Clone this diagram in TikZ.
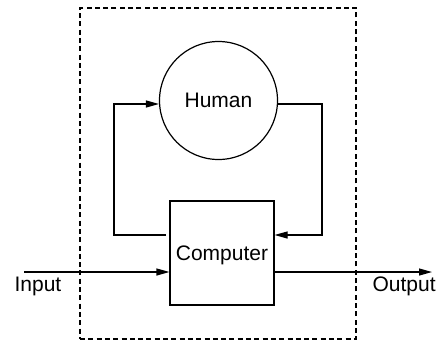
\documentclass[tikz,border=0pt]{standalone}
\usepackage{fontspec}
\setmainfont{Liberation Sans}
\usetikzlibrary{arrows.meta}
\begin{document}
\begin{tikzpicture}[x=1pt,y=-1pt,
  line width=1.2pt,
  arr/.style={-{Triangle[length=13pt,width=7pt]}},
  lbl/.style={inner sep=0pt,font=\fontsize{21}{25}\selectfont},
  shapebox/.style={draw,inner sep=0pt,font=\fontsize{21}{25}\selectfont}]
\useasboundingbox (0,0) rectangle (444,340);
\node[draw,dash pattern=on 5pt off 3.3pt,minimum width=276pt,minimum height=331pt,inner sep=0pt] (frame) at (218,173.5) {};
\node[shapebox,circle,minimum size=118pt] (human) at (218.5,100.5) {Human};
\node[shapebox,rectangle,minimum width=104pt,minimum height=104pt,text depth=0pt] (comp) at (222,253) {Computer};
\node[lbl,anchor=base west] (inlbl) at (14,291) {Input};
\node[lbl,anchor=base west] (outlbl) at (372,291) {Output};
\coordinate (lstart) at (166,235);
\coordinate (lb) at (114,235);
\coordinate (lt) at (114,104);
\coordinate (rt) at (322,104);
\coordinate (rb) at (322,235);
\coordinate (in) at (24,272);
\coordinate (out) at (432,272);
\draw[arr] (lstart) -- (lb) -- (lt) -- (lt -| human.west);
\draw[arr] (human.east |- rt) -- (rt) -- (rb) -- (rb -| comp.east);
\draw[arr] (in) -- (in -| comp.west);
\draw[arr] (in -| comp.east) -- (out);
\end{tikzpicture}
\end{document}
